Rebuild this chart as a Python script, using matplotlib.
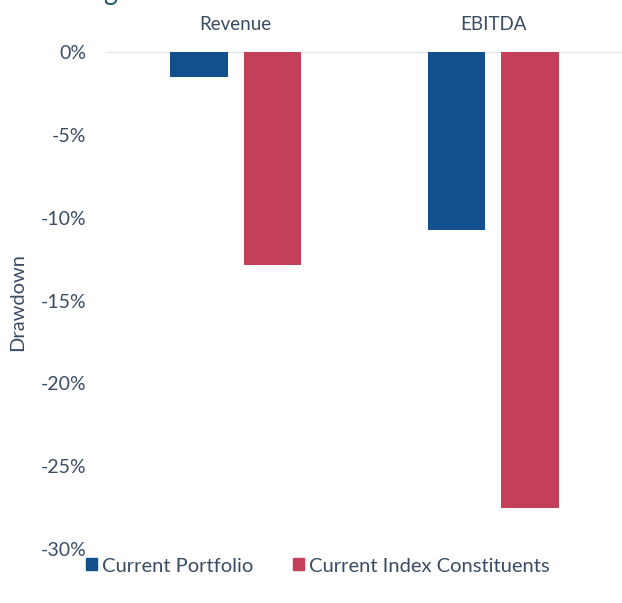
import numpy as np
import matplotlib
matplotlib.use("Agg")
import matplotlib.pyplot as plt
from matplotlib.patches import Patch

categories = ["Revenue", "EBITDA"]
portfolio = [-1.5, -10.75]
index_const = [-12.85, -27.5]
series_names = ["Current Portfolio", "Current Index Constituents"]
yticks = [0, -5, -10, -15, -20, -25, -30]

blue = "#134f8c"
red = "#c4405a"
text_col = "#3a4c63"

plt.rcParams["font.family"] = ["Lato", "DejaVu Sans"]

fig = plt.figure(figsize=(6.22, 6.03), dpi=100)
ax = fig.add_axes([107 / 622, 1 - 549 / 603, 1 - 107 / 622, (549 - 52) / 603])

x = np.arange(len(categories))
w = 0.223
off = 0.143
ax.bar(x - off, portfolio, w, color=blue, zorder=3)
ax.bar(x + off, index_const, w, color=red, zorder=3)

ax.axhline(0, color="#dbe5f1", lw=1.5, zorder=2)
ax.set_xlim(-0.5, 1.5)
ax.set_ylim(-30, 0)
ax.set_yticks(yticks)
ax.set_yticklabels([f"{t}%" for t in yticks], fontsize=14, color=text_col)
ax.tick_params(axis="y", length=0, pad=15)
ax.set_xticks([])
for s in ax.spines.values():
    s.set_visible(False)
ax.patch.set_visible(False)

for xi, c in zip(x, categories):
    ax.text(xi, 1.0 + 27 / 497, c, transform=ax.get_xaxis_transform(),
            ha="center", va="center", fontsize=13.5, color=text_col)

fig.text(18 / 622, 1 - 302 / 603, "Drawdown", rotation=90, ha="center",
         va="center", fontsize=14.5, color=text_col)

# clipped title remnant at top edge
fig.text(110 / 622, 1.0, "g", ha="center", va="baseline", fontsize=19,
         color="#1d5a66")

handles = [Patch(color=blue), Patch(color=red)]
fig.legend(handles, series_names, loc="center", bbox_to_anchor=(0.511, 1 - 566 / 603),
           ncol=2, frameon=False, fontsize=14.5, handlelength=0.55, handleheight=0.55,
           handletextpad=0.25, columnspacing=2.0, labelcolor=text_col)

fig.savefig("out.png", dpi=100)
